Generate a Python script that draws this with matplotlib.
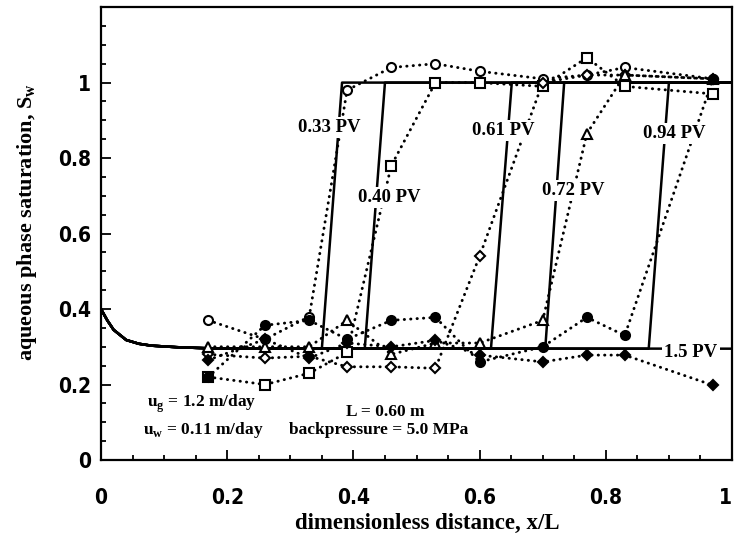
import numpy as np
import matplotlib.pyplot as plt
from matplotlib.ticker import MultipleLocator

# 模拟曲线（实线）：入口段衰减 + 平台 + 前缘 + 饱和段
base_x = [0.0, 0.01, 0.02, 0.04, 0.06, 0.08, 0.12, 0.17]
base_y = [0.40, 0.37, 0.345, 0.318, 0.308, 0.303, 0.299, 0.296]
s_low = 0.295
s_high = 1.0
pv_names = ["0.33 PV", "0.40 PV", "0.61 PV", "0.72 PV", "0.94 PV"]
front_foot = [0.350, 0.418, 0.618, 0.704, 0.868]
front_top = [0.382, 0.450, 0.651, 0.734, 0.900]

# 实验数据（虚线 + 标记）
x_meas = [0.17, 0.26, 0.33, 0.39, 0.46, 0.53, 0.60, 0.70, 0.77, 0.83, 0.97]
s_033 = [0.37, 0.32, 0.38, 0.98, 1.04, 1.05, 1.03, 1.01, 1.02, 1.04, 1.01]
s_040 = [0.22, 0.20, 0.23, 0.285, 0.78, 1.00, 1.00, 0.99, 1.066, 0.99, 0.97]
s_061 = [0.28, 0.27, 0.275, 0.247, 0.247, 0.243, 0.54, 1.00, 1.02, 1.02, 1.01]
s_072 = [0.30, 0.30, 0.30, 0.37, 0.28, 0.31, 0.31, 0.37, 0.865, 1.02, 1.01]
s_094 = [0.22, 0.357, 0.37, 0.32, 0.37, 0.378, 0.26, 0.30, 0.378, 0.33, 1.01]
s_150 = [0.265, 0.32, 0.27, 0.31, 0.30, 0.317, 0.278, 0.26, 0.278, 0.278, 0.198]

# 标注位置
label_x = [0.362, 0.457, 0.637, 0.748, 0.908]
label_y = [0.881, 0.696, 0.873, 0.714, 0.865]

fig = plt.figure(figsize=(7.34, 5.47), dpi=100)
ax = fig.add_axes([0.1376, 0.159, 0.8597, 0.828])

dots = dict(color="k", lw=2.1, linestyle=(0, (0.1, 2.1)), dash_capstyle="round", zorder=3)
series = [
    (s_033, "o", "white"),
    (s_040, "s", "white"),
    (s_061, "D", "white"),
    (s_072, "^", "white"),
    (s_094, "o", "k"),
    (s_150, "D", "k"),
]
for s, m, fc in series:
    ax.plot(x_meas, s, **dots)
    ax.plot(x_meas, s, linestyle="none", marker=m, ms=6.5 if m != "D" else 5.5,
            mfc=fc, mec="k", mew=1.5, zorder=4)

# 实线
for foot, top in zip(front_foot, front_top):
    xx = base_x + [foot, top, 1.0]
    yy = base_y + [s_low, s_high, s_high]
    ax.plot(xx, yy, color="k", lw=1.8, zorder=2)
ax.plot(base_x + [1.0], base_y + [s_low], color="k", lw=1.8, zorder=2)

serif = ["Liberation Serif", "DejaVu Serif"]
for name, lx, ly in zip(pv_names, label_x, label_y):
    ax.text(lx, ly, name, ha="center", va="center", fontsize=13.5, fontweight="bold",
            family=serif, zorder=5,
            bbox=dict(facecolor="white", edgecolor="none", pad=1.5))
ax.text(0.935, 0.286, "1.5 PV", ha="center", va="center", fontsize=13.5,
        fontweight="bold", family=serif, zorder=5,
        bbox=dict(facecolor="white", edgecolor="none", pad=1.5))

ax.text(0.073, 0.15, r"u$_\mathregular{g}$ = 1.2 m/day", fontsize=12.5, family=serif,
        fontweight="bold", ha="left", va="center")
ax.text(0.066, 0.08, r"u$_\mathregular{w}$ = 0.11 m/day", fontsize=12.5, family=serif,
        fontweight="bold", ha="left", va="center")
ax.text(0.45, 0.127, "L = 0.60 m", fontsize=12.5, family=serif, fontweight="bold",
        ha="center", va="center")
ax.text(0.44, 0.08, "backpressure = 5.0 MPa", fontsize=12.5, family=serif,
        fontweight="bold", ha="center", va="center")

ax.set_xlim(0, 1)
ax.set_ylim(0, 1.2)
ax.xaxis.set_minor_locator(MultipleLocator(0.05))
ax.yaxis.set_minor_locator(MultipleLocator(0.05))
ax.set_yticks([0, 0.2, 0.4, 0.6, 0.8, 1.0])
ax.set_yticklabels(["0", "0.2", "0.4", "0.6", "0.8", "1"])
ax.set_xticks([0, 0.2, 0.4, 0.6, 0.8, 1.0])
ax.set_xticklabels(["0", "0.2", "0.4", "0.6", "0.8", "1"])
ax.tick_params(which="both", direction="in", width=1.3)
ax.tick_params(which="major", length=7)
ax.tick_params(which="minor", length=3.5)
ax.tick_params(axis="x", pad=20)
ax.tick_params(axis="y", pad=7)
for lab in ax.get_xticklabels() + ax.get_yticklabels():
    lab.set_family(["DejaVu Sans", "Liberation Sans"])
    lab.set_stretch("condensed")
    lab.set_fontweight("bold")
    lab.set_fontsize(15)
ax.get_xticklabels()[-1].set_horizontalalignment("right")
for sp in ax.spines.values():
    sp.set_linewidth(1.6)

ax.set_xlabel("dimensionless distance, x/L", fontsize=16.5, fontweight="bold",
              family=serif, va="center")
ax.set_ylabel(r"aqueous phase saturation, S$_\mathregular{w}$", fontsize=16,
              fontweight="bold", family=serif, va="center")
ax.xaxis.set_label_coords(0.517, -0.139)
ax.yaxis.set_label_coords(-0.118, 0.525)

fig.savefig("out.png", dpi=100)
